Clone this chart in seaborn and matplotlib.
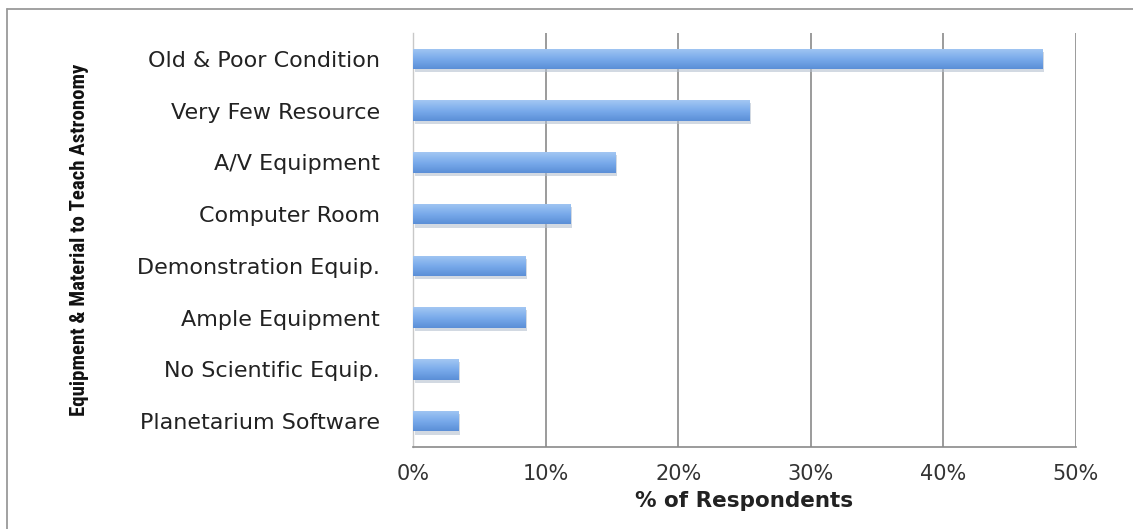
import numpy as np
import pandas as pd
import matplotlib
matplotlib.use("Agg")
import matplotlib.pyplot as plt
import seaborn as sns
from matplotlib.patches import Rectangle

categories = [
    "Old & Poor Condition",
    "Very Few Resource",
    "A/V Equipment",
    "Computer Room",
    "Demonstration Equip.",
    "Ample Equipment",
    "No Scientific Equip.",
    "Planetarium Software",
]
percent = [47.5, 25.4, 15.3, 11.9, 8.5, 8.5, 3.4, 3.4]
x_ticks = [0, 10, 20, 30, 40, 50]
x_tick_labels = ["0%", "10%", "20%", "30%", "40%", "50%"]

df = pd.DataFrame({"category": categories, "percent": percent})

sns.set_theme(style="white")
plt.rcParams["font.family"] = ["DejaVu Sans"]

fig = plt.figure(figsize=(11.33, 5.29), dpi=100)
ax = fig.add_axes([413 / 1133, 1 - 447 / 529, (1076 - 413) / 1133, (447 - 33) / 529])

sns.barplot(data=df, y="category", x="percent", orient="h", width=0.4,
            color="#6a9fe3", saturation=1, ax=ax, zorder=3)

# vertical gradient + soft shadow on each bar
grad = np.linspace(0, 1, 64).reshape(-1, 1)
cmap = matplotlib.colors.LinearSegmentedColormap.from_list(
    "barfill", ["#a3c7f3", "#7aabeb", "#5b8fd7"])
for p in ax.patches:
    x0, y0 = p.get_x(), p.get_y()
    w, h = p.get_width(), p.get_height()
    shadow = Rectangle((x0 + 0.12, y0 + 0.06), w, h, facecolor="#b4c0d0",
                       edgecolor="none", alpha=0.6, zorder=2)
    ax.add_patch(shadow)
    im = ax.imshow(grad, extent=[x0, x0 + w, y0 + h, y0], cmap=cmap,
                   aspect="auto", zorder=4, interpolation="bilinear")
    im.set_clip_path(p)
    p.set_edgecolor("none")

ax.set_xlim(0, 50)
ax.set_ylim(len(categories) - 0.5, -0.5)
ax.set_xticks(x_ticks)
ax.set_xticklabels(x_tick_labels)
ax.xaxis.grid(True, color="#8a8a8a", linewidth=1.2, zorder=1)
ax.yaxis.grid(False)
ax.set_axisbelow(True)

for s in ["top", "right"]:
    ax.spines[s].set_visible(False)
ax.spines["left"].set_color("#c8c8c8")
ax.spines["left"].set_linewidth(1.0)
ax.spines["bottom"].set_color("#8a8a8a")
ax.spines["bottom"].set_linewidth(1.2)

ax.tick_params(axis="y", length=0, pad=24, labelsize=16, labelcolor="#222222")
ax.tick_params(axis="x", length=0, pad=12, labelsize=15, labelcolor="#333333")

ax.set_xlabel("% of Respondents", fontsize=15.5, fontweight="bold", labelpad=5,
              color="#222222")
ax.set_ylabel("Equipment & Material to Teach Astronomy",
              family=["Roboto Condensed", "Roboto", "DejaVu Sans"],
              fontsize=15, fontweight="bold", color="#111111")
ax.yaxis.set_label_coords(-0.489, 0.5)

# thin frame along the top and left of the figure
fig.add_artist(plt.Line2D([7 / 1133, 1], [1 - 9 / 529, 1 - 9 / 529],
                          transform=fig.transFigure, color="#9a9a9a", linewidth=1.3))
fig.add_artist(plt.Line2D([7 / 1133, 7 / 1133], [0, 1 - 9 / 529],
                          transform=fig.transFigure, color="#9a9a9a", linewidth=1.3))

fig.savefig("out.png", dpi=100)
